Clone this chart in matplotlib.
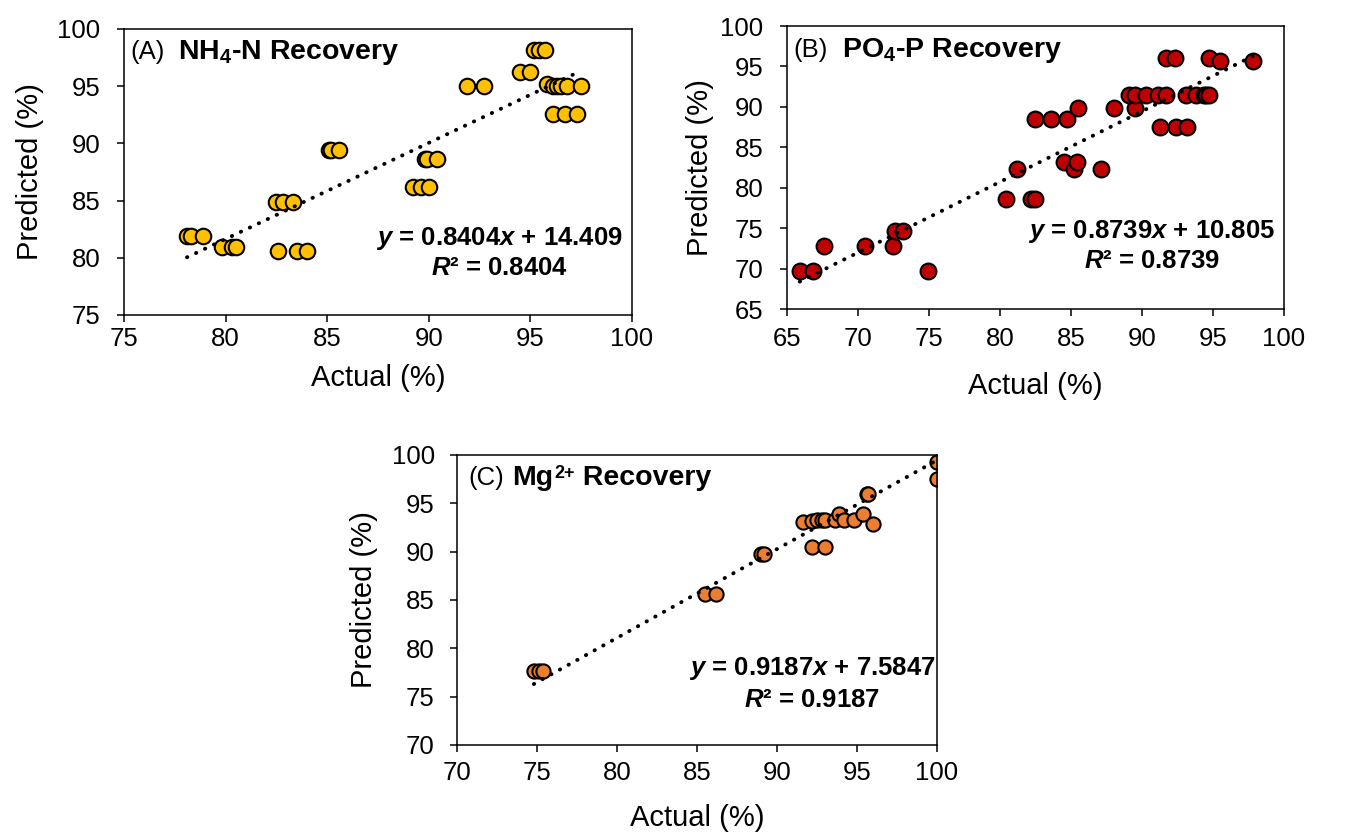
import matplotlib
matplotlib.use('Agg')
import matplotlib.pyplot as plt
import numpy as np

plt.rcParams['font.family'] = ['Liberation Sans', 'DejaVu Sans']
plt.rcParams['mathtext.fontset'] = 'custom'
plt.rcParams['mathtext.rm'] = 'Liberation Sans'
plt.rcParams['mathtext.bf'] = 'Liberation Sans:bold'
plt.rcParams['mathtext.it'] = 'Liberation Sans:italic'
plt.rcParams['mathtext.bfit'] = 'Liberation Sans:bold:italic'

# (A) NH4-N recovery
nh4_actual = [78.1, 78.3, 78.9, 79.8, 80.3, 80.5, 82.6, 83.5, 84.0,
              82.5, 82.8, 83.3, 85.1, 85.2, 85.6, 89.2, 89.6, 90.0,
              89.8, 89.9, 90.4, 91.9, 92.7, 94.5, 95.0, 95.2, 95.4, 95.7,
              95.8, 96.1, 96.3, 96.5, 96.8, 97.5, 96.1, 96.7, 97.3]
nh4_pred = [81.9, 81.9, 81.9, 80.9, 80.9, 80.9, 80.6, 80.6, 80.6,
            84.9, 84.9, 84.9, 89.4, 89.4, 89.4, 86.2, 86.2, 86.2,
            88.6, 88.6, 88.6, 95.0, 95.0, 96.2, 96.2, 98.2, 98.2, 98.2,
            95.2, 95.0, 95.0, 95.0, 95.0, 95.0, 92.6, 92.6, 92.6]

# (B) PO4-P recovery
po4_actual = [65.9, 66.8, 67.6, 70.5, 72.5, 72.6, 73.2, 74.9,
              80.4, 82.2, 82.5, 81.2, 82.5, 83.6, 84.7, 85.5,
              84.5, 85.2, 85.4, 87.1, 88.0, 89.5,
              89.1, 89.5, 90.3, 91.1, 91.7, 93.1, 93.8, 94.4, 94.5, 94.7,
              91.3, 92.4, 93.2, 91.7, 92.3, 94.7, 95.5, 97.8]
po4_pred = [69.7, 69.7, 72.8, 72.8, 72.8, 74.7, 74.7, 69.7,
            78.6, 78.6, 78.6, 82.3, 88.5, 88.5, 88.5, 89.9,
            83.2, 82.3, 83.2, 82.3, 89.9, 89.9,
            91.5, 91.5, 91.5, 91.5, 91.5, 91.5, 91.5, 91.5, 91.5, 91.5,
            87.5, 87.5, 87.5, 96.1, 96.1, 96.1, 95.7, 95.7]

# (C) Mg2+ recovery
mg_actual = [74.8, 75.1, 75.4, 85.5, 86.2, 89.0, 89.2,
             91.6, 92.2, 92.5, 92.8, 93.0, 93.6, 93.9, 94.2, 94.8,
             92.2, 93.0, 95.4, 95.6, 95.7, 96.0, 100.0, 100.0]
mg_pred = [77.7, 77.7, 77.7, 85.6, 85.6, 89.8, 89.8,
           93.1, 93.2, 93.3, 93.3, 93.3, 93.3, 93.9, 93.3, 93.3,
           90.5, 90.5, 93.9, 96.0, 96.0, 92.9, 99.3, 97.5]

panels = [
    dict(x=nh4_actual, y=nh4_pred, color='#FFC000', slope=0.8404, icpt=14.409,
         tag='(A)', title=r'NH$_\mathbf{4}$-N Recovery', lim=(75, 100),
         eq=r'$\mathbfit{y}$ = 0.8404$\mathbfit{x}$ + 14.409', r2=r'$\mathbfit{R}$² = 0.8404',
         rect=[0.0922, 0.6214, 0.3777, 0.3438], s=125, eqx=0.740, eqy=(0.245, 0.140),
         tagx=0.012, tx=0.106, ty=0.895, xpad=4, ypad=12, xl=-0.220, yl=-0.185),
    dict(x=po4_actual, y=po4_pred, color='#C00000', slope=0.8739, icpt=10.805,
         tag='(B)', title=r'PO$_\mathbf{4}$-P Recovery', lim=(65, 100),
         eq=r'$\mathbfit{y}$ = 0.8739$\mathbfit{x}$ + 10.805', r2=r'$\mathbfit{R}$² = 0.8739',
         rect=[0.5851, 0.6286, 0.3695, 0.3401], s=130, eqx=0.734, eqy=(0.251, 0.145),
         tagx=0.012, tx=0.111, ty=0.890, xpad=8, ypad=12, xl=-0.272, yl=-0.175),
    dict(x=mg_actual, y=mg_pred, color='#ED7D31', slope=0.9187, icpt=7.5847,
         tag='(C)', title=None, lim=(70, 100),
         eq=r'$\mathbfit{y}$ = 0.9187$\mathbfit{x}$ + 7.5847', r2=r'$\mathbfit{R}$² = 0.9187',
         rect=[0.3398, 0.1046, 0.3569, 0.3486], s=105, eqx=0.740, eqy=(0.241, 0.131),
         tagx=0.023, tx=0.115, ty=0.897, xpad=6.5, ypad=11, xl=-0.252, yl=-0.194),
]

fig = plt.figure(figsize=(13.45, 8.32), dpi=100)

for p in panels:
    ax = fig.add_axes(p['rect'])
    ax.scatter(p['x'], p['y'], s=p['s'], c=p['color'], edgecolors='black',
               linewidths=1.5, zorder=2)
    # linear trend line over the data range
    xs = np.array([min(p['x']), max(p['x'])])
    ax.plot(xs, p['slope'] * xs + p['icpt'], color='black', lw=2.8,
            linestyle=(0, (0.1, 2.45)), dash_capstyle='round', zorder=3)

    lo, hi = p['lim']
    ax.set_xlim(lo, hi)
    ax.set_ylim(lo, hi)
    ax.set_xticks(np.arange(lo, hi + 1, 5))
    ax.set_yticks(np.arange(lo, hi + 1, 5))
    ax.tick_params(direction='out', length=5, width=1.1, labelsize=18.5)
    ax.tick_params(axis='x', pad=p['xpad'])
    ax.tick_params(axis='y', pad=p['ypad'])
    for sp in ax.spines.values():
        sp.set_linewidth(1.1)
    ax.set_xlabel('Actual (%)', fontsize=21, va='center')
    ax.set_ylabel('Predicted (%)', fontsize=21, va='center')
    ax.xaxis.set_label_coords(0.5, p['xl'])
    ax.yaxis.set_label_coords(p['yl'], 0.5)

    ax.text(p['tagx'], p['ty'], p['tag'], transform=ax.transAxes, fontsize=18.5,
            ha='left', va='baseline')
    if p['title'] is not None:
        ax.text(p['tx'], p['ty'], p['title'], transform=ax.transAxes, fontsize=20.5,
                fontweight='bold', ha='left', va='baseline')
    else:
        # Mg2+ with a tight superscript
        t1 = ax.text(p['tx'], p['ty'], 'Mg', transform=ax.transAxes, fontsize=20.5,
                     fontweight='bold', ha='left', va='baseline')
        t2 = ax.annotate('2+', xy=(1, 1), xycoords=t1, xytext=(0.5, 0),
                         textcoords='offset points', fontsize=13,
                         fontweight='bold', ha='left', va='top')
        ax.annotate(' Recovery', xy=(1, 0), xycoords=(t2, t1), fontsize=20.5,
                    fontweight='bold', ha='left', va='bottom')
    ax.text(p['eqx'], p['eqy'][0], p['eq'], transform=ax.transAxes, fontsize=18.5,
            fontweight='bold', ha='center', va='baseline')
    ax.text(p['eqx'], p['eqy'][1], p['r2'], transform=ax.transAxes, fontsize=18.5,
            fontweight='bold', ha='center', va='baseline')

fig.savefig('out.png', dpi=100)
